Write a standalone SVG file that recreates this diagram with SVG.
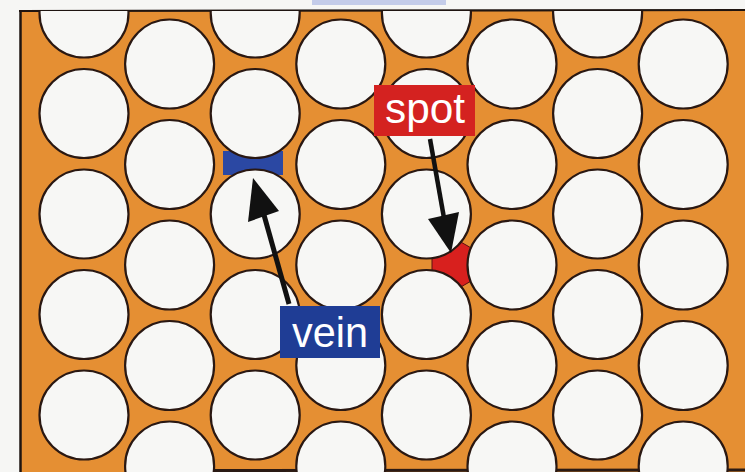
<svg xmlns="http://www.w3.org/2000/svg" width="745" height="472" viewBox="0 0 745 472">
  <style>
    .cell { fill: #f7f7f5; stroke: #2a1812; stroke-width: 2.2; }
    .lbl { font-family: "Liberation Sans", Arial, sans-serif; font-size: 42px; fill: #ffffff; }
    .shaft { stroke: #111111; stroke-linecap: butt; }
    .head { fill: #111111; }
  </style>
  <defs>
    <clipPath id="frameClip">
      <rect x="20" y="11" width="740" height="470"/>
    </clipPath>
  </defs>
  <rect x="0" y="0" width="745" height="472" fill="#f6f6f4"/>
  <rect x="312" y="0" width="134" height="5" fill="#9aaae0" opacity="0.55"/>
  <g id="frame">
    <rect x="20" y="11" width="740" height="470" fill="#e58f33"/>
    <line x1="20.5" y1="10" x2="20.5" y2="472" stroke="#1e1410" stroke-width="2.5"/>
    <line x1="19" y1="11" x2="745" y2="10" stroke="#1e1410" stroke-width="2.2"/>
    <line x1="210" y1="470.5" x2="745" y2="470" stroke="#2a1a14" stroke-width="3"/>
  </g>
  <g id="vein-region">
    <rect x="223" y="151" width="60" height="24" fill="#2b48a3"/>
  </g>
  <g id="spot-region">
    <polygon points="432,254.5 457.3,240 474.7,250 474.7,279 457.3,289 432,274.5" fill="#d8201e" stroke="#5a1010" stroke-width="1"/>
  </g>
  <g id="packing" clip-path="url(#frameClip)">
    <circle class="cell" cx="84" cy="13" r="44.5"/>
    <circle class="cell" cx="84" cy="113.5" r="44.5"/>
    <circle class="cell" cx="84" cy="214" r="44.5"/>
    <circle class="cell" cx="84" cy="314.5" r="44.5"/>
    <circle class="cell" cx="84" cy="415" r="44.5"/>
    <circle class="cell" cx="169.6" cy="64" r="44.5"/>
    <circle class="cell" cx="169.6" cy="164.5" r="44.5"/>
    <circle class="cell" cx="169.6" cy="265" r="44.5"/>
    <circle class="cell" cx="169.6" cy="365.5" r="44.5"/>
    <circle class="cell" cx="169.6" cy="466" r="44.5"/>
    <circle class="cell" cx="255.2" cy="13" r="44.5"/>
    <circle class="cell" cx="255.2" cy="113.5" r="44.5"/>
    <circle class="cell" cx="255.2" cy="214" r="44.5"/>
    <circle class="cell" cx="255.2" cy="314.5" r="44.5"/>
    <circle class="cell" cx="255.2" cy="415" r="44.5"/>
    <circle class="cell" cx="340.8" cy="64" r="44.5"/>
    <circle class="cell" cx="340.8" cy="164.5" r="44.5"/>
    <circle class="cell" cx="340.8" cy="265" r="44.5"/>
    <circle class="cell" cx="340.8" cy="365.5" r="44.5"/>
    <circle class="cell" cx="340.8" cy="466" r="44.5"/>
    <circle class="cell" cx="426.4" cy="13" r="44.5"/>
    <circle class="cell" cx="426.4" cy="113.5" r="44.5"/>
    <circle class="cell" cx="426.4" cy="214" r="44.5"/>
    <circle class="cell" cx="426.4" cy="314.5" r="44.5"/>
    <circle class="cell" cx="426.4" cy="415" r="44.5"/>
    <circle class="cell" cx="512" cy="64" r="44.5"/>
    <circle class="cell" cx="512" cy="164.5" r="44.5"/>
    <circle class="cell" cx="512" cy="265" r="44.5"/>
    <circle class="cell" cx="512" cy="365.5" r="44.5"/>
    <circle class="cell" cx="512" cy="466" r="44.5"/>
    <circle class="cell" cx="597.6" cy="13" r="44.5"/>
    <circle class="cell" cx="597.6" cy="113.5" r="44.5"/>
    <circle class="cell" cx="597.6" cy="214" r="44.5"/>
    <circle class="cell" cx="597.6" cy="314.5" r="44.5"/>
    <circle class="cell" cx="597.6" cy="415" r="44.5"/>
    <circle class="cell" cx="683.2" cy="64" r="44.5"/>
    <circle class="cell" cx="683.2" cy="164.5" r="44.5"/>
    <circle class="cell" cx="683.2" cy="265" r="44.5"/>
    <circle class="cell" cx="683.2" cy="365.5" r="44.5"/>
    <circle class="cell" cx="683.2" cy="466" r="44.5"/>
  </g>
  <g id="connectors">
    <g id="arrow-spot">
      <line class="shaft" x1="430" y1="139" x2="444" y2="218" stroke-width="4.5"/>
      <polygon class="head" points="428,219 459,212 451,253"/>
    </g>
    <g id="arrow-vein">
      <line class="shaft" x1="264" y1="215" x2="289" y2="304" stroke-width="5"/>
      <polygon class="head" points="248,222 279,211 253,178"/>
    </g>
  </g>
  <g id="label-spot">
    <rect x="374" y="85" width="101" height="51" fill="#d42220"/>
    <text class="lbl" x="385" y="123" textLength="80" lengthAdjust="spacingAndGlyphs">spot</text>
  </g>
  <g id="label-vein">
    <rect x="280" y="306" width="100" height="52" fill="#1f3d95"/>
    <text class="lbl" x="292" y="347" textLength="76" lengthAdjust="spacingAndGlyphs">vein</text>
  </g>
</svg>
